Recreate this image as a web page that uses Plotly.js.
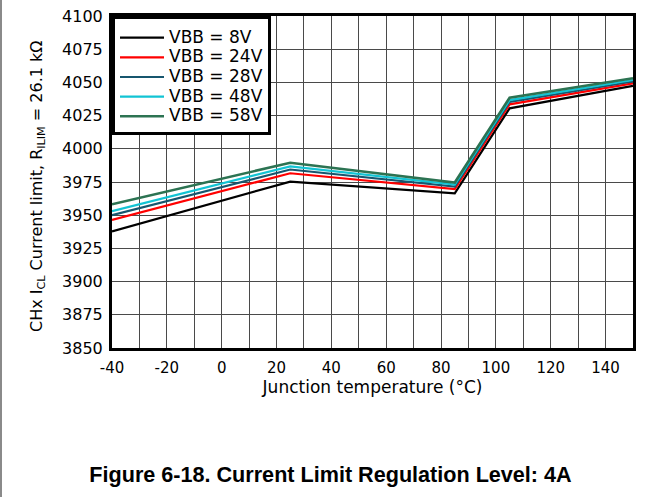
<!DOCTYPE html>
<html>
<head>
<meta charset="utf-8">
<script src="https://cdn.plot.ly/plotly-3.0.1.min.js"></script>
<style>
  html, body { margin: 0; padding: 0; background: #fff; }
  #wrap { position: relative; width: 661px; height: 497px; }
  #edge { position: absolute; left: 0; top: 0; width: 2px; height: 497px; background: #8a8a8a; z-index: 5; }
  #chart { width: 661px; height: 497px; }
</style>
</head>
<body>
<div id="wrap"><div id="edge"></div><div id="chart"></div></div>
<script>
// Junction temperature (°C)
const tempC = [-40, 25, 85, 105, 150];
// Current limit (mA) for each supply voltage
const vbb8V  = [3937.8, 3975.3, 3966.5, 4030.5, 4047.4];
const vbb24V = [3946.4, 3981.6, 3969.7, 4033.5, 4049.3];
const vbb28V = [3950.0, 3984.4, 3971.6, 4035.4, 4050.7];
const vbb48V = [3953.0, 3986.8, 3973.1, 4036.7, 4051.8];
const vbb58V = [3958.2, 3989.5, 3974.6, 4038.5, 4053.1];
const seriesNames = ['VBB = 8V', 'VBB = 24V', 'VBB = 28V', 'VBB = 48V', 'VBB = 58V'];
const seriesColors = ['#000000', '#ff0000', '#17566e', '#12c4d4', '#2c7352'];
const xTickVals = [-40, -20, 0, 20, 40, 60, 80, 100, 120, 140];
const xTickText = ['-40', '-20', '0', '20', '40', '60', '80', '100', '120', '140'];
const yTickVals = [3850, 3875, 3900, 3925, 3950, 3975, 4000, 4025, 4050, 4075, 4100];
const yTickText = ['3850', '3875', '3900', '3925', '3950', '3975', '4000', '4025', '4050', '4075', '4100'];
const xTitle = 'Junction temperature (°C)';
const yTitle = 'CHx I<sub>CL</sub> Current limit, R<sub>ILIM</sub> = 26.1 kΩ';
const figTitle = 'Figure 6-18. Current Limit Regulation Level: 4A';

const ys = [vbb8V, vbb24V, vbb28V, vbb48V, vbb58V];
const traces = ys.map((y, i) => ({
  x: tempC, y: y, type: 'scatter', mode: 'lines',
  name: '<span style="font-size:17px">' + seriesNames[i] + '</span>',
  line: { color: seriesColors[i], width: i === 4 ? 2.6 : 2.2 }
}));

const font = 'DejaVu Sans, Liberation Sans, Arial, sans-serif';
const gridCol = '#4a4a4a';
const layout = {
  width: 661, height: 497,
  margin: { l: 112, r: 28, t: 16, b: 149 },
  paper_bgcolor: '#ffffff', plot_bgcolor: '#ffffff',
  font: { family: font, color: '#000', size: 16 },
  showlegend: true,
  legend: {
    x: 0, y: 1, xanchor: 'left', yanchor: 'top',
    bgcolor: '#ffffff', bordercolor: '#000', borderwidth: 3,
    font: { family: font, size: 12.8, color: '#000' },
    title: { text: ' ', font: { family: font, size: 3 } },
    tracegroupgap: 0, itemwidth: 44
  },
  title: {
    text: '<b>' + figTitle + '</b>',
    font: { family: 'Liberation Sans, Arial, sans-serif', size: 21.6, color: '#000' },
    x: 0.5, xanchor: 'center', xref: 'container',
    y: 1 - 474 / 497, yanchor: 'middle', yref: 'container'
  },
  xaxis: {
    range: [-40, 150],
    tickmode: 'array', tickvals: xTickVals, ticktext: xTickText,
    ticks: '', ticklabelstandoff: 4,
    tickfont: { family: font, size: 15 },
    showgrid: true, gridcolor: gridCol, gridwidth: 1,
    minor: { tickmode: 'linear', tick0: 0, dtick: 10, showgrid: true, gridcolor: gridCol, gridwidth: 1, ticks: '' },
    zeroline: false,
    showline: true, mirror: true, linecolor: '#000', linewidth: 3,
    title: { text: xTitle, font: { family: font, size: 17 }, standoff: 1 },
    automargin: false
  },
  yaxis: {
    range: [3850, 4100],
    tickmode: 'array', tickvals: yTickVals, ticktext: yTickText,
    ticks: '', ticklabelstandoff: 3,
    tickfont: { family: font, size: 16 },
    showgrid: true, gridcolor: gridCol, gridwidth: 1,
    zeroline: false,
    showline: true, mirror: true, linecolor: '#000', linewidth: 3,
    automargin: false
  },
  annotations: [{
    text: yTitle, textangle: -90, showarrow: false,
    xref: 'paper', yref: 'paper', x: (37 - 112) / 521, y: 1 - (186 - 16) / 332,
    xanchor: 'center', yanchor: 'middle',
    font: { family: font, size: 16, color: '#000' }
  }]
};

Plotly.newPlot('chart', traces, layout, { displayModeBar: false, staticPlot: true });
</script>
</body>
</html>
